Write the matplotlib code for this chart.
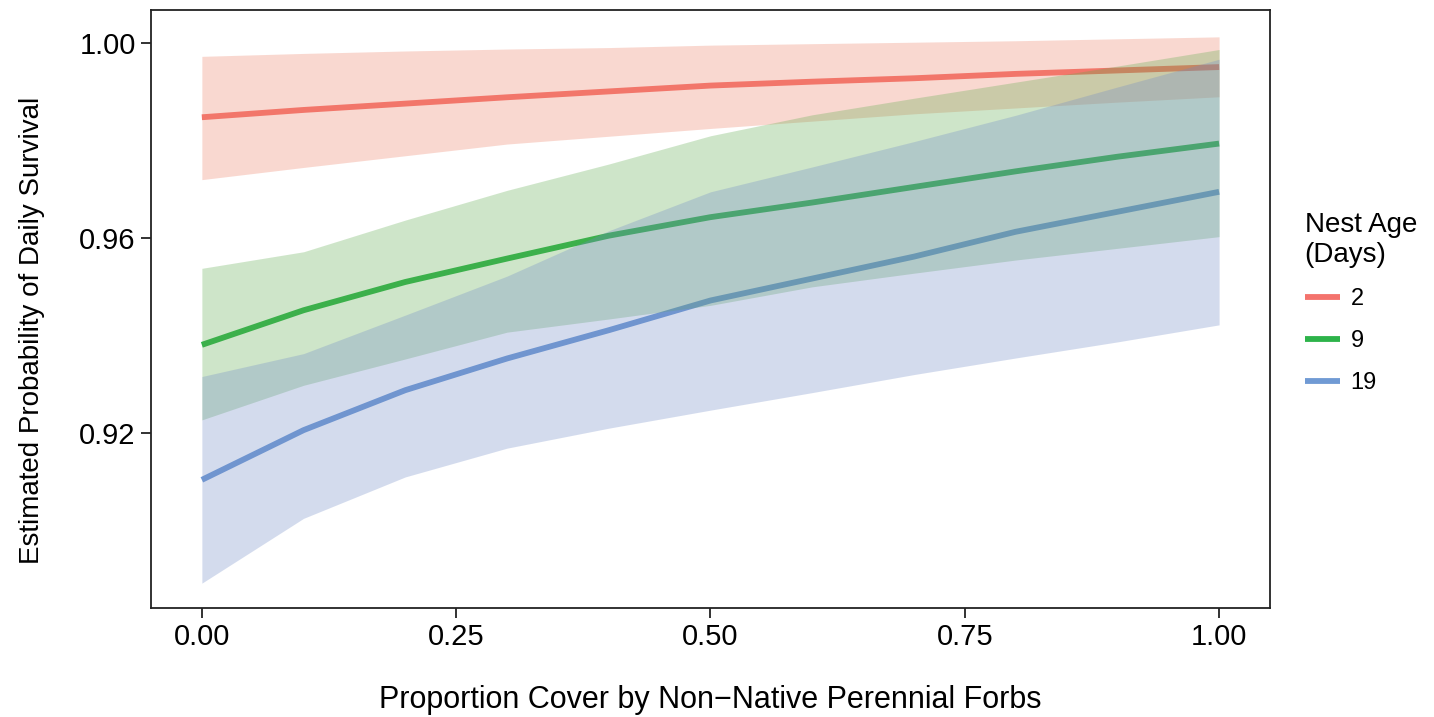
import matplotlib
matplotlib.use("Agg")
import matplotlib.pyplot as plt
import numpy as np

plt.rcParams["font.family"] = ["Liberation Sans", "DejaVu Sans"]

# ── data ──────────────────────────────────────────────────────────────────────
cover = [0.0, 0.1, 0.2, 0.3, 0.4, 0.5, 0.6, 0.7, 0.8, 0.9, 1.0]

age2_fit   = [0.9848, 0.9863, 0.9876, 0.9889, 0.9901, 0.9913, 0.9921, 0.9928, 0.9937, 0.9944, 0.9951]
age2_lower = [0.9720, 0.9745, 0.9769, 0.9793, 0.9809, 0.9825, 0.9840, 0.9855, 0.9867, 0.9879, 0.9890]
age2_upper = [0.9973, 0.9979, 0.9984, 0.9988, 0.9991, 0.9996, 0.9999, 1.0002, 1.0005, 1.0009, 1.0013]

age9_fit   = [0.9381, 0.9452, 0.9510, 0.9558, 0.9605, 0.9643, 0.9673, 0.9705, 0.9737, 0.9767, 0.9794]
age9_lower = [0.9227, 0.9298, 0.9352, 0.9407, 0.9434, 0.9462, 0.9500, 0.9528, 0.9555, 0.9579, 0.9603]
age9_upper = [0.9538, 0.9572, 0.9637, 0.9698, 0.9752, 0.9810, 0.9853, 0.9887, 0.9920, 0.9953, 0.9987]

age19_fit   = [0.9104, 0.9206, 0.9288, 0.9353, 0.9411, 0.9472, 0.9517, 0.9562, 0.9613, 0.9654, 0.9695]
age19_lower = [0.8892, 0.9025, 0.9110, 0.9169, 0.9210, 0.9247, 0.9283, 0.9320, 0.9354, 0.9387, 0.9422]
age19_upper = [0.9316, 0.9363, 0.9442, 0.9522, 0.9615, 0.9695, 0.9746, 0.9798, 0.9852, 0.9910, 0.9967]

ages        = ["2", "9", "19"]
line_colors = ["#F4736D", "#2DB34A", "#709AD4"]
fill_colors = ["#EE8066", "#5FAC4E", "#708AC6"]

x_ticks = [0.00, 0.25, 0.50, 0.75, 1.00]
y_ticks = [0.92, 0.96, 1.00]

# ── plot ──────────────────────────────────────────────────────────────────────
fig = plt.figure(figsize=(14.34, 7.17), dpi=100)
ax = fig.add_axes([0.1053, 0.152, 0.7803, 0.834])

fits   = [age2_fit, age9_fit, age19_fit]
lowers = [age2_lower, age9_lower, age19_lower]
uppers = [age2_upper, age9_upper, age19_upper]

# lines sit under the ribbons, as in the original
for lab, fit, col in zip(ages, fits, line_colors):
    ax.plot(cover, fit, color=col, lw=4.2, label=lab, zorder=2,
            solid_capstyle="butt")
for lo, up, col in zip(lowers, uppers, fill_colors):
    ax.fill_between(cover, lo, up, color=col, alpha=0.3, lw=0, zorder=3)

ax.set_xlim(-0.05, 1.05)
ax.set_ylim(0.8841, 1.0068)
ax.set_xticks(x_ticks)
ax.set_xticklabels([f"{v:.2f}" for v in x_ticks])
ax.set_yticks(y_ticks)
ax.set_yticklabels([f"{v:.2f}" for v in y_ticks])

for s in ax.spines.values():
    s.set_linewidth(1.3)
    s.set_color("#222222")
ax.tick_params(axis="both", direction="out", length=7, width=1.3,
               color="#222222", labelsize=21, labelcolor="black", pad=4)

ax.set_xlabel("Proportion Cover by Non\u2212Native Perennial Forbs",
              fontsize=22, labelpad=24)
ax.set_ylabel("Estimated Probability of Daily Survival", fontsize=20)
ax.yaxis.set_label_coords(-0.095, 0.465)

leg = ax.legend(title="Nest Age\n(Days)", loc="center left",
                bbox_to_anchor=(1.012, 0.51), frameon=False, fontsize=17,
                title_fontsize=20, handlelength=1.5, handletextpad=0.45,
                labelspacing=0.85, alignment="left")

fig.savefig("out.png", dpi=100)
